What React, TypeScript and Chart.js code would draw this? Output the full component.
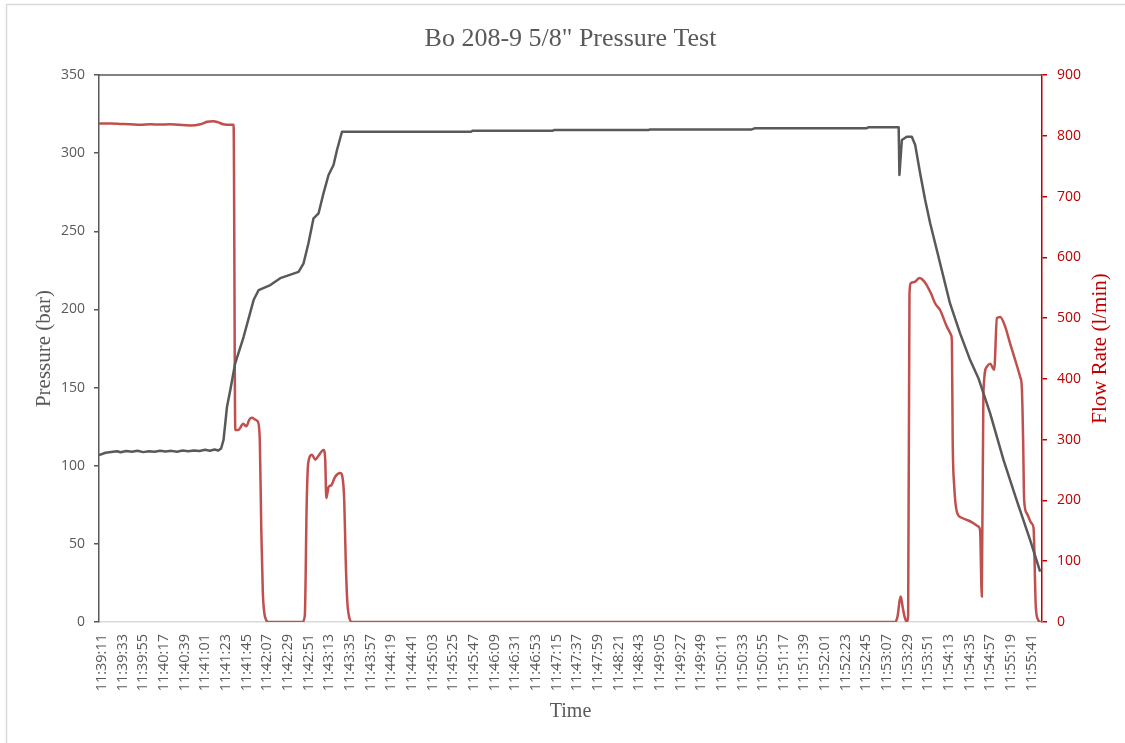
import React, { useEffect, useRef } from "react";
import { Chart, registerables } from "chart.js";

Chart.register(...registerables);

// ---------- text ----------
const TITLE = 'Bo 208-9 5/8" Pressure Test';
const X_TITLE = "Time";
const Y_TITLE = "Pressure (bar)";
const Y1_TITLE = "Flow Rate (l/min)";

// ---------- x axis tick labels (every 22 s from 11:39:11) ----------
const TICK_STEP_S = 22;
const TIME_LABELS = [
  "11:39:11", "11:39:33", "11:39:55", "11:40:17", "11:40:39", "11:41:01",
  "11:41:23", "11:41:45", "11:42:07", "11:42:29", "11:42:51", "11:43:13",
  "11:43:35", "11:43:57", "11:44:19", "11:44:41", "11:45:03", "11:45:25",
  "11:45:47", "11:46:09", "11:46:31", "11:46:53", "11:47:15", "11:47:37",
  "11:47:59", "11:48:21", "11:48:43", "11:49:05", "11:49:27", "11:49:49",
  "11:50:11", "11:50:33", "11:50:55", "11:51:17", "11:51:39", "11:52:01",
  "11:52:23", "11:52:45", "11:53:07", "11:53:29", "11:53:51", "11:54:13",
  "11:54:35", "11:54:57", "11:55:19", "11:55:41",
];

// ---------- Pressure series (seconds after 11:39:11, bar) ----------
const PRESSURE_T = [
  -3, 4, 10, 16, 20, 26, 32, 38, 44, 50,
  56, 62, 68, 74, 80, 86, 92, 98, 104, 110,
  115, 120, 124, 127, 129.6, 133.3, 136.8, 142, 151, 161.6,
  167, 179.4, 190, 209.5, 214.8, 220, 225.4, 230.8, 236, 241.4,
  246.7, 250.4, 255.7, 393, 395, 480, 482, 582, 584, 692,
  695, 814, 816, 848.4, 849.2, 851.8, 857, 862.4, 866, 871.3,
  876.6, 882, 889, 896, 903, 913.8, 924.5, 933.3, 945.8, 960,
  974, 988.3, 999,
];
const PRESSURE = [
  106.8, 108.3, 108.8, 109.3, 108.6, 109.4, 108.9, 109.6, 108.7, 109.3,
  109.0, 109.6, 109.1, 109.5, 109.0, 109.7, 109.2, 109.8, 109.4, 110.2,
  109.6, 110.4, 109.7, 111, 116.5, 137.8, 148.4, 165.5, 182.5, 206,
  212.4, 215.6, 220, 224, 229.5, 242.3, 258.3, 261.5, 274.3, 286,
  292.4, 302, 313.7, 313.7, 314.4, 314.4, 314.8, 314.8, 315.2, 315.2,
  315.9, 315.9, 316.5, 316.5, 286, 308.4, 310.5, 310.5, 305.2, 287,
  270, 255, 238, 221, 204, 184.7, 167.6, 156, 133.5, 103.7,
  78, 52.5, 32.2,
];

// ---------- Flow rate series (seconds after 11:39:11, l/min) ----------
const FLOW_T = [
  -3, 9, 20, 30, 41, 52, 62, 72, 82, 94,
  105, 112, 118.7, 124, 129.3, 137.8, 140.3, 142.1, 145.3, 150.6,
  153.8, 157, 159.9, 163.4, 166, 168.2, 169.8, 171.4, 173, 175.1,
  177.2, 213.4, 216.1, 218.2, 219.8, 223.7, 227.3, 230.4, 236.1, 237.9,
  239, 241.4, 244.3, 248.5, 253.9, 256, 258.1, 259.7, 261.3, 263.4,
  266.6, 844.6, 847.3, 849.4, 850.7, 852.6, 854.8, 857.1, 858.5, 859.9,
  861.7, 866, 870.6, 873.4, 878.4, 883, 887.3, 892.6, 899.7, 904.3,
  905.1, 905.9, 907.5, 910.4, 915, 921, 926.6, 933.3, 935.1, 936.9,
  938.6, 942.2, 945.8, 950.1, 953, 956.5, 961.8, 967.1, 972.5, 977.8,
  979.5, 980.9, 982, 984.8, 990.1, 992, 994.4, 997.1, 999, 1005,
];
const FLOW = [
  820, 820, 819.5, 819, 818, 819, 818.5, 819, 818, 817,
  819, 823, 824, 822, 819, 818, 818, 316, 316, 326,
  322, 333, 336, 333, 330, 300, 150, 50, 15, 3,
  0, 0, 10, 200, 262, 275, 267, 273, 283, 265,
  204, 222, 225, 239, 245, 240, 200, 100, 35, 8,
  0, 0, 10, 35, 42, 25, 8, 0, 10, 540,
  558, 560, 566, 564, 554, 540, 524, 513, 486, 472,
  460, 300, 225, 181, 172, 168, 164, 157, 150, 42,
  376, 420, 425, 415, 500, 502, 486, 458, 431, 403,
  387, 300, 200, 179, 162, 155, 25, 3, 0, 0,
];

// ---------- axis ranges ----------
const X_MIN = -3;
const X_MAX = 1001;
const Y_MIN = 0;
const Y_MAX = 350;
const Y_STEP = 50;
const Y1_MIN = 0;
const Y1_MAX = 900;
const Y1_STEP = 100;

// ---------- styles ----------
const W = 1125;
const H = 743;
const GRAY = "#595959";
const RED_AXIS = "#C00000";
const RED_LINE = "#C0504D";
const LIGHT = "#D9D9D9";
const SERIF = '"Liberation Serif", serif';
const SANS = '"Open Sans", sans-serif';

const decorPlugin = {
  id: "decor",
  beforeDraw(chart: any) {
    const ctx = chart.ctx;
    ctx.save();
    ctx.fillStyle = "#ffffff";
    ctx.fillRect(0, 0, W, H);
    ctx.strokeStyle = LIGHT;
    ctx.lineWidth = 1.5;
    ctx.beginPath();
    ctx.moveTo(6.5, H + 5);
    ctx.lineTo(6.5, 4.5);
    ctx.lineTo(W + 5, 4.5);
    ctx.stroke();
    ctx.restore();
  },
  afterDraw(chart: any) {
    const ctx = chart.ctx;
    const a = chart.chartArea;
    ctx.save();
    // top frame line
    ctx.strokeStyle = GRAY;
    ctx.lineWidth = 1.5;
    ctx.beginPath();
    ctx.moveTo(a.left, a.top);
    ctx.lineTo(a.right, a.top);
    ctx.stroke();

    const cx = (a.left + a.right) / 2;
    const cy = (a.top + a.bottom) / 2;
    ctx.textAlign = "center";
    ctx.textBaseline = "alphabetic";
    ctx.fillStyle = GRAY;
    ctx.font = `26px ${SERIF}`;
    ctx.fillText(TITLE, cx, 46);

    ctx.font = `20px ${SERIF}`;
    ctx.fillText(X_TITLE, cx, 717);

    ctx.font = `21px ${SERIF}`;
    ctx.save();
    ctx.translate(50, cy);
    ctx.rotate(-Math.PI / 2);
    ctx.fillText(Y_TITLE, 0, 0);
    ctx.restore();

    ctx.save();
    ctx.fillStyle = RED_AXIS;
    ctx.translate(1106, cy);
    ctx.rotate(-Math.PI / 2);
    ctx.fillText(Y1_TITLE, 0, 0);
    ctx.restore();

    ctx.restore();
  },
};

export default function App() {
  const ref = useRef<HTMLCanvasElement | null>(null);

  useEffect(() => {
    if (!ref.current) return;
    const pressurePts = PRESSURE_T.map((t, i) => ({ x: t, y: PRESSURE[i] }));
    const flowPts = FLOW_T.map((t, i) => ({ x: t, y: FLOW[i] }));

    const chart = new Chart(ref.current, {
      type: "line",
      data: {
        datasets: [
          {
            label: "Pressure",
            data: pressurePts,
            yAxisID: "y",
            borderColor: GRAY,
            borderWidth: 2.5,
            pointRadius: 0,
            tension: 0,
            borderJoinStyle: "round",
          },
          {
            label: "Flow Rate",
            data: flowPts,
            yAxisID: "y1",
            borderColor: RED_LINE,
            borderWidth: 2.5,
            pointRadius: 0,
            cubicInterpolationMode: "monotone",
          },
        ],
      },
      options: {
        animation: false,
        responsive: false,
        devicePixelRatio: 1,
        parsing: false as any,
        layout: { padding: { top: 75, left: 0, right: 0, bottom: 0 } },
        plugins: {
          legend: { display: false },
          tooltip: { enabled: false },
          title: { display: false },
        },
        scales: {
          x: {
            type: "linear",
            min: X_MIN,
            max: X_MAX,
            afterBuildTicks: (s: any) => {
              s.ticks = TIME_LABELS.map((_, i) => ({ value: i * TICK_STEP_S }));
            },
            afterFit: (s: any) => {
              s.height = 121;
            },
            grid: { display: false },
            border: { display: true, color: LIGHT, width: 1.5 },
            ticks: {
              autoSkip: false,
              maxRotation: 90,
              minRotation: 90,
              padding: 4,
              color: GRAY,
              font: { family: SANS, size: 14.5 },
              callback: (_v: any, i: number) => TIME_LABELS[i],
            },
          },
          y: {
            position: "left",
            min: Y_MIN,
            max: Y_MAX,
            afterFit: (s: any) => {
              s.width = 99;
            },
            grid: {
              drawOnChartArea: false,
              drawTicks: true,
              tickLength: 5,
              color: GRAY,
              lineWidth: 1.5,
            },
            border: { display: true, color: GRAY, width: 1.5 },
            ticks: {
              stepSize: Y_STEP,
              padding: 9,
              color: GRAY,
              font: { family: SANS, size: 14 },
            },
          },
          y1: {
            position: "right",
            min: Y1_MIN,
            max: Y1_MAX,
            afterFit: (s: any) => {
              s.width = 83;
            },
            grid: {
              drawOnChartArea: false,
              drawTicks: true,
              tickLength: 5,
              color: RED_AXIS,
              lineWidth: 1.5,
            },
            border: { display: true, color: RED_AXIS, width: 1.5 },
            ticks: {
              stepSize: Y1_STEP,
              padding: 10,
              color: RED_AXIS,
              font: { family: SANS, size: 14 },
            },
          },
        },
      },
      plugins: [decorPlugin],
    } as any);

    return () => chart.destroy();
  }, []);

  return (
    <div style={{ position: "absolute", left: 0, top: 0, width: W, height: H }}>
      <canvas ref={ref} width={W} height={H} style={{ width: W, height: H, display: "block" }} />
    </div>
  );
}
